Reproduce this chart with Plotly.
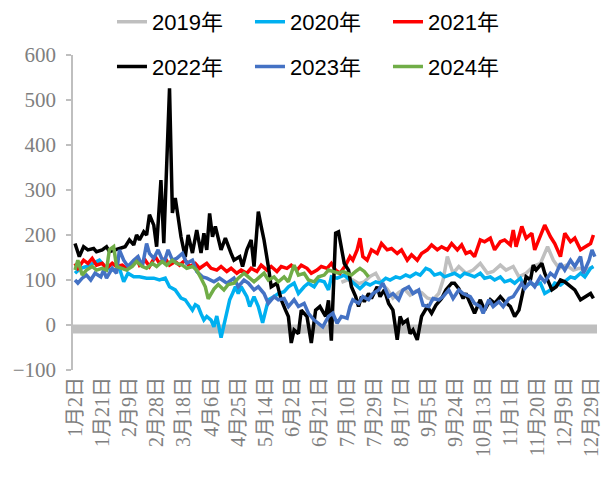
import plotly.graph_objects as go

# x-axis: day offsets from 1月2日 and their labels
tick_days = [0, 19, 38, 57, 76, 95, 114, 133, 152, 171, 190, 209, 228, 247, 266, 285, 304, 323, 342, 361]
tick_labels = ["1月2日", "1月21日", "2月9日", "2月28日", "3月18日", "4月6日", "4月25日", "5月14日",
               "6月2日", "6月21日", "7月10日", "7月29日", "8月17日", "9月5日", "9月24日", "10月13日",
               "11月1日", "11月20日", "12月9日", "12月29日"]

# 2019
days_2019 = [186, 190, 194, 198, 202, 206, 210, 214, 218, 222, 226, 230, 234, 238, 242, 246, 250, 254, 257, 260,
             264, 268, 273, 278, 283, 288, 292, 297, 301, 306, 310, 315, 320, 325, 330, 334, 338, 343, 348, 352,
             357, 362]
vals_2019 = [95, 100, 100, 92, 96, 108, 115, 92, 80, 60, 72, 80, 66, 75, 72, 60, 56, 70, 100, 152,
             115, 130, 115, 122, 137, 115, 119, 133, 122, 130, 107, 115, 130, 137, 174, 144, 126, 133, 122, 126,
             122, 130]

# 2020
days_2020 = [0, 4, 8, 13, 17, 22, 27, 31, 34, 37, 41, 45, 50, 55, 59, 63, 66, 70, 74, 77, 80, 82, 84, 86, 88, 90,
             92, 95, 97, 99, 102, 105, 108, 110, 112, 114, 116, 120, 122, 125, 128, 131, 135, 139, 142, 146, 149,
             153, 156, 160, 163, 167, 170, 174, 177, 179, 183, 188, 192, 196, 199, 203, 206, 210, 213, 217, 220,
             224, 227, 231, 234, 238, 241, 245, 248, 251, 255, 258, 262, 265, 269, 272, 276, 279, 283, 286, 290,
             293, 297, 300, 304, 307, 311, 314, 318, 321, 325, 328, 332, 335, 339, 342, 346, 349, 353, 356, 360, 362]
vals_2020 = [115, 126, 130, 137, 144, 126, 122, 126, 96, 115, 107, 107, 104, 104, 100, 104, 85, 78, 60, 56, 40, 33,
             45, 41, 25, 11, 19, 11, -4, 20, -28, 11, 56, 70, 85, 70, 85, 63, 41, 63, 41, 5, 56, 63, 70, 74, 85,
             93, 70, 85, 93, 85, 100, 96, 78, 107, 104, 111, 100, 89, 81, 93, 89, 96, 93, 104, 100,
             107, 104, 111, 107, 115, 111, 126, 122, 111, 115, 107, 111, 115, 107, 115, 111, 107, 115, 104, 107,
             100, 107, 96, 100, 93, 104, 85, 93, 89, 93, 70, 78, 93, 89, 96, 107, 104, 115, 107, 126, 130]

# 2021
days_2021 = [0, 2, 6, 9, 12, 15, 19, 22, 26, 29, 33, 36, 40, 43, 45, 49, 52, 56, 59, 63, 66, 70, 73, 77, 80, 84, 87,
             92, 95, 99, 102, 106, 109, 113, 116, 120, 123, 127, 130, 134, 137, 141, 144, 148, 151, 155, 158, 162,
             165, 169, 172, 176, 179, 182, 185, 189, 192, 194, 197, 199, 201, 204, 207, 211, 214, 218, 221, 225,
             228, 232, 235, 239, 242, 246, 249, 253, 256, 260, 263, 267, 270, 273, 276, 279, 283, 286, 290, 293,
             297, 300, 304, 306, 308, 312, 315, 319, 321, 325, 328, 332, 335, 339, 342, 346, 349, 353, 356, 360, 362]
vals_2021 = [137, 126, 144, 137, 148, 133, 137, 126, 137, 130, 133, 126, 137, 148, 133, 144, 130, 152, 137, 148, 133,
             141, 133, 144, 130, 137, 126,
             137, 126, 122, 130, 119, 126, 115, 122, 115, 126, 119, 133, 122, 130, 119, 130, 126, 133, 122, 133, 126,
             115, 122, 130, 126, 137, 122, 115, 133, 152, 144, 167, 193, 152, 144, 167, 159, 181, 167, 170, 159,
             167, 144, 156, 144, 159, 167, 178, 167, 174, 167, 181, 167, 178, 159, 163, 152, 189, 185, 193, 167,
             185, 189, 178, 211, 174, 219, 193, 204, 167, 196, 222, 196, 181, 152, 204, 185, 193, 167, 174, 181, 200]

# 2022
days_2022 = [0, 3, 6, 9, 13, 15, 19, 22, 24, 28, 31, 35, 38, 41, 43, 45, 48, 50, 52, 55, 57, 60, 62, 66, 68, 70, 72,
             74, 77, 79, 82, 85, 88, 90, 92, 94, 96, 98, 102, 105, 109, 111, 115, 117, 120, 123, 125, 128, 130, 132,
             135, 137, 141, 144, 147, 149, 151, 153, 156, 158, 162, 165, 168, 171, 175, 177, 179, 182, 184, 186, 188,
             191, 193, 196, 198, 200, 202, 205, 207, 211, 213, 216, 219, 222, 225, 227, 229, 232, 234, 236, 239,
             242, 246, 249, 252, 256, 259, 263, 265, 268, 271, 273, 277, 279, 283, 286, 290, 293, 297, 300, 304,
             307, 310, 312, 315, 318, 320, 322, 326, 328, 331, 333, 336, 339, 342, 346, 349, 353, 356, 360, 362]
vals_2022 = [181, 152, 174, 167, 170, 163, 167, 174, 163, 167, 170, 174, 189, 178, 200, 189, 207, 200, 245, 222, 174,
             322, 182, 526, 249, 282, 240, 196, 151, 200, 160, 211, 160, 204, 167, 248, 196, 219, 167, 193, 159, 144,
             152, 130, 167, 189, 130, 252, 219, 189, 130, 85, 93, 56, 33, 19, -40, -11, -19, 33, 19, -40, 33, 41,
             19, 55, -35, 204, 207, 174, 137, 122, 85, 63, 41, 63, 52, 70, 59, 85, 63, 78, 48, 33, -33, 19, 4, 11,
             -19, -11, -33, 19, 41, 26, 44, 59, 78, 93, 93, 81, 59, 70, 41, 26, 56, 33, 56, 48, 63, 52, 41, 19, 33,
             63, 107, 100, 133, 122, 137, 115, 93, 78, 85, 100, 96, 85, 78, 56, 63, 70, 59]

# 2023
days_2023 = [0, 2, 5, 8, 11, 14, 18, 20, 22, 26, 29, 31, 34, 37, 41, 44, 47, 50, 52, 55, 58, 62, 65, 68, 71, 75, 78,
             82, 85, 89, 92, 97, 101, 106, 111, 114, 118, 121, 125, 128, 132, 135, 139, 142, 146, 149, 153, 156,
             160, 163, 167, 170, 173, 177, 180, 183, 186, 190, 192, 194, 198, 201, 205, 208, 212, 215, 219, 222,
             226, 229, 233, 236, 240, 243, 247, 250, 254, 257, 261, 264, 268, 271, 276, 279, 283, 285, 289, 292,
             296, 299, 303, 306, 309, 312, 314, 318, 321, 325, 328, 332, 335, 339, 342, 346, 349, 353, 355, 359,
             361, 363]
vals_2023 = [100, 93, 104, 111, 100, 115, 107, 122, 104, 126, 115, 167, 144, 130, 144, 152, 130, 181, 159, 148, 167,
             137, 167, 144, 148, 159, 137, 144, 119, 107, 104, 96, 104, 93, 104, 85, 100, 93, 78, 85, 70, 48, 63,
             56, 59, 41, 56, 41, 48, 26, 11, 4, -4, 19, 26, 4, 19, 15, 41, 56, 48, 63, 56, 70, 78, 93, 63, 70, 56,
             78, 85, 70, 78, 44, 41, 59, 56, 63, 78, 59, 78, 70, 63, 48, 41, 26, 56, 41, 52, 41, 59, 63, 78, 93, 81,
             96, 85, 107, 96, 115, 107, 137, 122, 144, 130, 152, 115, 144, 167, 152]

# 2024
days_2024 = [0, 2, 5, 8, 12, 15, 19, 22, 24, 27, 29, 33, 36, 40, 43, 47, 50, 54, 57, 61, 64, 68, 71, 75, 78, 82, 85,
             88, 91, 93, 97, 100, 104, 107, 111, 114, 118, 121, 125, 128, 132, 135, 139, 142, 146, 149, 153, 156,
             160, 163, 167, 170, 174, 177, 180, 184, 187, 190, 193, 196, 199, 202, 205]
vals_2024 = [122, 144, 111, 122, 130, 122, 126, 122, 167, 174, 130, 126, 122, 130, 141, 130, 126, 137, 130, 141, 133,
             144, 137, 133, 126, 130, 122, 104, 85, 58, 80, 90, 78, 90, 93, 104, 115, 107, 96, 104, 115, 100, 107,
             96, 107, 96, 133, 111, 115, 100, 96, 107, 111, 122, 119, 115, 119, 115, 111, 119, 126, 119, 107]

series = [
    ("2019年", days_2019, vals_2019, "#BFBFBF", "legend"),
    ("2020年", days_2020, vals_2020, "#00B0F0", "legend"),
    ("2021年", days_2021, vals_2021, "#FF0000", "legend"),
    ("2022年", days_2022, vals_2022, "#000000", "legend2"),
    ("2023年", days_2023, vals_2023, "#4472C4", "legend2"),
    ("2024年", days_2024, vals_2024, "#70AD47", "legend2"),
]

fig = go.Figure()
for name, d, v, c, lg in series:
    fig.add_trace(go.Scatter(x=d, y=v, name=name, mode="lines",
                             line=dict(color=c, width=3.5), legend=lg))

# thick grey category-axis line just under 0
fig.add_shape(type="line", xref="paper", yref="y", x0=0, x1=1, y0=-9, y1=-9,
              line=dict(color="#BFBFBF", width=9), layer="below")

serif = "Liberation Serif, Times New Roman, Noto Sans CJK SC, serif"
sans = "Liberation Sans, Arial, Noto Sans CJK SC, sans-serif"

legend_common = dict(orientation="h", xanchor="left", yanchor="middle",
                     xref="container", yref="container",
                     font=dict(family=sans, size=22, color="#000000"),
                     bgcolor="rgba(0,0,0,0)", entrywidth=93, entrywidthmode="pixels",
                     itemwidth=30, traceorder="normal")

fig.update_layout(
    width=604, height=477,
    margin=dict(l=73, r=7, t=55, b=107, autoexpand=False),
    paper_bgcolor="white", plot_bgcolor="white",
    showlegend=True,
    legend=dict(x=0.1854, y=0.954, **legend_common),
    legend2=dict(x=0.1854, y=0.860, **legend_common),
    xaxis=dict(range=[-1.4, 364.5], tickmode="array", tickvals=tick_days, ticktext=tick_labels,
               tickangle=-90, tickfont=dict(family=serif, size=20, color="#7F7F7F"),
               showgrid=False, zeroline=False, showline=False, ticks="", ticklabelstandoff=2,
               automargin=False),
    yaxis=dict(range=[-100, 600], tickmode="array", tickvals=[-100, 0, 100, 200, 300, 400, 500, 600],
               tickfont=dict(family=serif, size=21, color="#7F7F7F"),
               showgrid=False, zeroline=False, showline=True, linecolor="#BFBFBF", linewidth=1.5,
               ticks="outside", ticklen=5, tickcolor="#BFBFBF", tickwidth=1.5, ticklabelstandoff=6,
               automargin=False),
)

fig.write_html("out.html", config={"displayModeBar": False},
               post_script="document.body.style.margin='0';")
